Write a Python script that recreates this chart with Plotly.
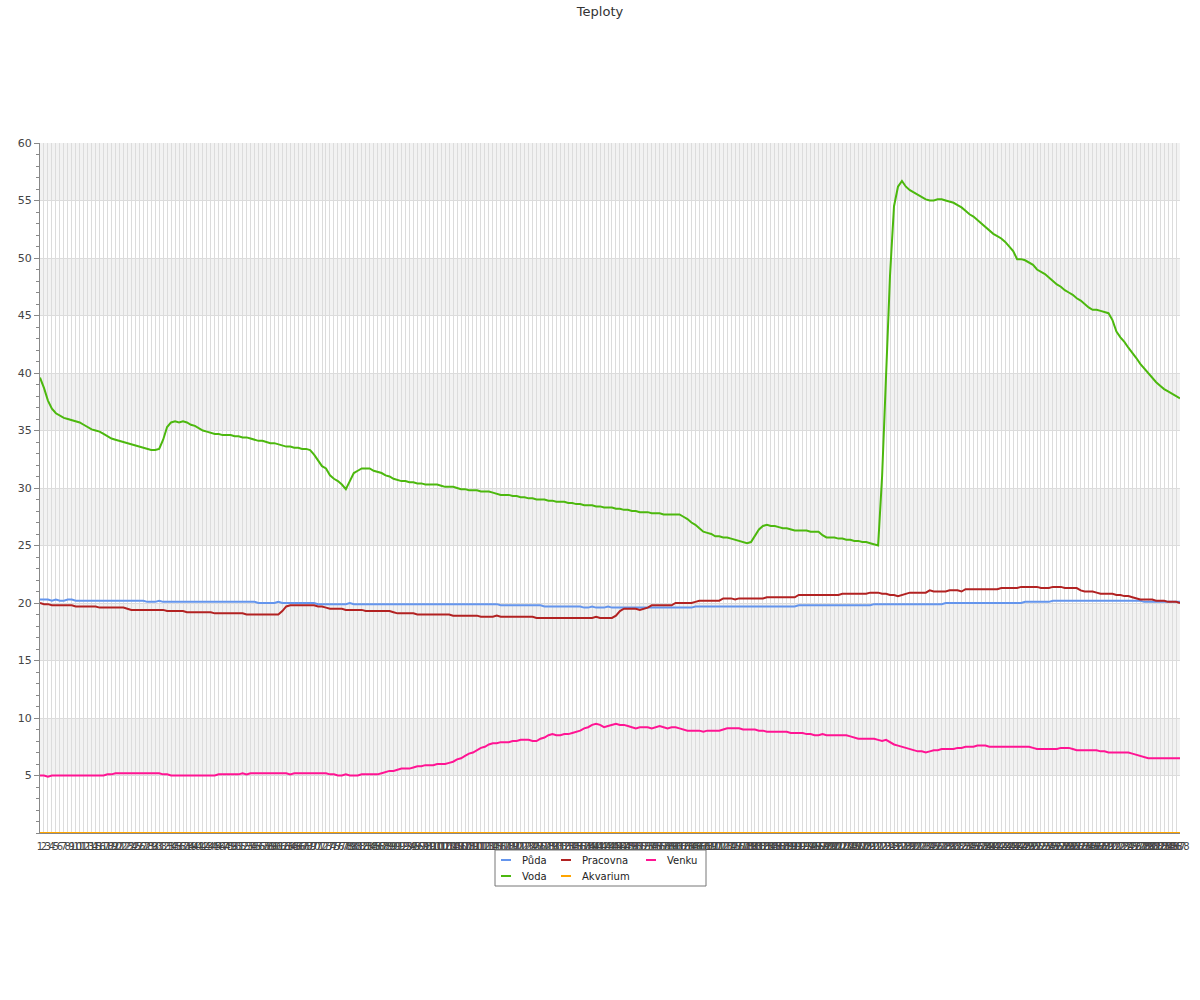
import plotly.graph_objects as go

labels = [str(i) for i in range(1, 289)]

puda = [
    20.3, 20.3, 20.3, 20.2, 20.3, 20.2, 20.2, 20.3, 20.3, 20.2,
    20.2, 20.2, 20.2, 20.2, 20.2, 20.2, 20.2, 20.2, 20.2, 20.2,
    20.2, 20.2, 20.2, 20.2, 20.2, 20.2, 20.2, 20.1, 20.1, 20.1,
    20.2, 20.1, 20.1, 20.1, 20.1, 20.1, 20.1, 20.1, 20.1, 20.1,
    20.1, 20.1, 20.1, 20.1, 20.1, 20.1, 20.1, 20.1, 20.1, 20.1,
    20.1, 20.1, 20.1, 20.1, 20.1, 20.0, 20.0, 20.0, 20.0, 20.0,
    20.1, 20.0, 20.0, 20.0, 20.0, 20.0, 20.0, 20.0, 20.0, 20.0,
    19.9, 19.9, 19.9, 19.9, 19.9, 19.9, 19.9, 19.9, 20.0, 19.9,
    19.9, 19.9, 19.9, 19.9, 19.9, 19.9, 19.9, 19.9, 19.9, 19.9,
    19.9, 19.9, 19.9, 19.9, 19.9, 19.9, 19.9, 19.9, 19.9, 19.9,
    19.9, 19.9, 19.9, 19.9, 19.9, 19.9, 19.9, 19.9, 19.9, 19.9,
    19.9, 19.9, 19.9, 19.9, 19.9, 19.9, 19.8, 19.8, 19.8, 19.8,
    19.8, 19.8, 19.8, 19.8, 19.8, 19.8, 19.8, 19.7, 19.7, 19.7,
    19.7, 19.7, 19.7, 19.7, 19.7, 19.7, 19.7, 19.6, 19.6, 19.7,
    19.6, 19.6, 19.6, 19.7, 19.6, 19.6, 19.6, 19.6, 19.6, 19.6,
    19.6, 19.6, 19.6, 19.6, 19.6, 19.6, 19.6, 19.6, 19.6, 19.6,
    19.6, 19.6, 19.6, 19.6, 19.6, 19.7, 19.7, 19.7, 19.7, 19.7,
    19.7, 19.7, 19.7, 19.7, 19.7, 19.7, 19.7, 19.7, 19.7, 19.7,
    19.7, 19.7, 19.7, 19.7, 19.7, 19.7, 19.7, 19.7, 19.7, 19.7,
    19.7, 19.8, 19.8, 19.8, 19.8, 19.8, 19.8, 19.8, 19.8, 19.8,
    19.8, 19.8, 19.8, 19.8, 19.8, 19.8, 19.8, 19.8, 19.8, 19.8,
    19.9, 19.9, 19.9, 19.9, 19.9, 19.9, 19.9, 19.9, 19.9, 19.9,
    19.9, 19.9, 19.9, 19.9, 19.9, 19.9, 19.9, 19.9, 20.0, 20.0,
    20.0, 20.0, 20.0, 20.0, 20.0, 20.0, 20.0, 20.0, 20.0, 20.0,
    20.0, 20.0, 20.0, 20.0, 20.0, 20.0, 20.0, 20.0, 20.1, 20.1,
    20.1, 20.1, 20.1, 20.1, 20.1, 20.2, 20.2, 20.2, 20.2, 20.2,
    20.2, 20.2, 20.2, 20.2, 20.2, 20.2, 20.2, 20.2, 20.2, 20.2,
    20.2, 20.2, 20.2, 20.2, 20.2, 20.2, 20.2, 20.2, 20.1, 20.1,
    20.1, 20.1, 20.1, 20.1, 20.1, 20.1, 20.1, 20.1,
]

voda = [
    39.6, 38.7, 37.6, 36.9, 36.5, 36.3, 36.1, 36.0, 35.9, 35.8,
    35.7, 35.5, 35.3, 35.1, 35.0, 34.9, 34.7, 34.5, 34.3, 34.2,
    34.1, 34.0, 33.9, 33.8, 33.7, 33.6, 33.5, 33.4, 33.3, 33.3,
    33.4, 34.2, 35.3, 35.7, 35.8, 35.7, 35.8, 35.7, 35.5, 35.4,
    35.2, 35.0, 34.9, 34.8, 34.7, 34.7, 34.6, 34.6, 34.6, 34.5,
    34.5, 34.4, 34.4, 34.3, 34.2, 34.1, 34.1, 34.0, 33.9, 33.9,
    33.8, 33.7, 33.6, 33.6, 33.5, 33.5, 33.4, 33.4, 33.3, 32.9,
    32.4, 31.9, 31.7, 31.1, 30.8, 30.6, 30.3, 29.9, 30.6, 31.3,
    31.5, 31.7, 31.7, 31.7, 31.5, 31.4, 31.3, 31.1, 31.0, 30.8,
    30.7, 30.6, 30.6, 30.5, 30.5, 30.4, 30.4, 30.3, 30.3, 30.3,
    30.3, 30.2, 30.1, 30.1, 30.1, 30.0, 29.9, 29.9, 29.8, 29.8,
    29.8, 29.7, 29.7, 29.7, 29.6, 29.5, 29.4, 29.4, 29.4, 29.3,
    29.3, 29.2, 29.2, 29.1, 29.1, 29.0, 29.0, 29.0, 28.9, 28.9,
    28.8, 28.8, 28.8, 28.7, 28.7, 28.6, 28.6, 28.5, 28.5, 28.5,
    28.4, 28.4, 28.3, 28.3, 28.3, 28.2, 28.2, 28.1, 28.1, 28.0,
    28.0, 27.9, 27.9, 27.9, 27.8, 27.8, 27.8, 27.7, 27.7, 27.7,
    27.7, 27.7, 27.5, 27.3, 27.0, 26.8, 26.5, 26.2, 26.1, 26.0,
    25.8, 25.8, 25.7, 25.7, 25.6, 25.5, 25.4, 25.3, 25.2, 25.3,
    25.8, 26.4, 26.7, 26.8, 26.7, 26.7, 26.6, 26.5, 26.5, 26.4,
    26.3, 26.3, 26.3, 26.3, 26.2, 26.2, 26.2, 25.9, 25.7, 25.7,
    25.7, 25.6, 25.6, 25.5, 25.5, 25.4, 25.4, 25.3, 25.3, 25.2,
    25.1, 25.0, 31.0, 40.0, 48.5, 54.5, 56.2, 56.7, 56.2, 55.9,
    55.7, 55.5, 55.3, 55.1, 55.0, 55.0, 55.1, 55.1, 55.0, 54.9,
    54.8, 54.6, 54.4, 54.1, 53.8, 53.6, 53.3, 53.0, 52.7, 52.4,
    52.1, 51.9, 51.7, 51.4, 51.0, 50.6, 49.9, 49.9, 49.8, 49.6,
    49.4, 49.0, 48.8, 48.6, 48.3, 48.0, 47.7, 47.5, 47.2, 47.0,
    46.8, 46.5, 46.3, 46.0, 45.7, 45.5, 45.5, 45.4, 45.3, 45.2,
    44.6, 43.6, 43.1, 42.7, 42.2, 41.8, 41.3, 40.8, 40.4, 40.0,
    39.6, 39.2, 38.9, 38.6, 38.4, 38.2, 38.0, 37.8,
]

pracovna = [
    20.0, 19.9, 19.9, 19.8, 19.8, 19.8, 19.8, 19.8, 19.8, 19.7,
    19.7, 19.7, 19.7, 19.7, 19.7, 19.6, 19.6, 19.6, 19.6, 19.6,
    19.6, 19.6, 19.5, 19.4, 19.4, 19.4, 19.4, 19.4, 19.4, 19.4,
    19.4, 19.4, 19.3, 19.3, 19.3, 19.3, 19.3, 19.2, 19.2, 19.2,
    19.2, 19.2, 19.2, 19.2, 19.1, 19.1, 19.1, 19.1, 19.1, 19.1,
    19.1, 19.1, 19.0, 19.0, 19.0, 19.0, 19.0, 19.0, 19.0, 19.0,
    19.0, 19.3, 19.7, 19.8, 19.8, 19.8, 19.8, 19.8, 19.8, 19.8,
    19.7, 19.7, 19.6, 19.5, 19.5, 19.5, 19.5, 19.4, 19.4, 19.4,
    19.4, 19.4, 19.3, 19.3, 19.3, 19.3, 19.3, 19.3, 19.3, 19.2,
    19.1, 19.1, 19.1, 19.1, 19.1, 19.0, 19.0, 19.0, 19.0, 19.0,
    19.0, 19.0, 19.0, 19.0, 18.9, 18.9, 18.9, 18.9, 18.9, 18.9,
    18.9, 18.8, 18.8, 18.8, 18.8, 18.9, 18.8, 18.8, 18.8, 18.8,
    18.8, 18.8, 18.8, 18.8, 18.8, 18.7, 18.7, 18.7, 18.7, 18.7,
    18.7, 18.7, 18.7, 18.7, 18.7, 18.7, 18.7, 18.7, 18.7, 18.7,
    18.8, 18.7, 18.7, 18.7, 18.7, 18.9, 19.3, 19.5, 19.5, 19.5,
    19.5, 19.4, 19.5, 19.6, 19.8, 19.8, 19.8, 19.8, 19.8, 19.8,
    20.0, 20.0, 20.0, 20.0, 20.0, 20.1, 20.2, 20.2, 20.2, 20.2,
    20.2, 20.2, 20.4, 20.4, 20.4, 20.3, 20.4, 20.4, 20.4, 20.4,
    20.4, 20.4, 20.4, 20.5, 20.5, 20.5, 20.5, 20.5, 20.5, 20.5,
    20.5, 20.7, 20.7, 20.7, 20.7, 20.7, 20.7, 20.7, 20.7, 20.7,
    20.7, 20.7, 20.8, 20.8, 20.8, 20.8, 20.8, 20.8, 20.8, 20.9,
    20.9, 20.9, 20.8, 20.8, 20.7, 20.7, 20.6, 20.7, 20.8, 20.9,
    20.9, 20.9, 20.9, 20.9, 21.1, 21.0, 21.0, 21.0, 21.0, 21.1,
    21.1, 21.1, 21.0, 21.2, 21.2, 21.2, 21.2, 21.2, 21.2, 21.2,
    21.2, 21.2, 21.3, 21.3, 21.3, 21.3, 21.3, 21.4, 21.4, 21.4,
    21.4, 21.4, 21.3, 21.3, 21.3, 21.4, 21.4, 21.4, 21.3, 21.3,
    21.3, 21.3, 21.1, 21.0, 21.0, 21.0, 20.9, 20.8, 20.8, 20.8,
    20.8, 20.7, 20.7, 20.6, 20.6, 20.5, 20.4, 20.3, 20.3, 20.3,
    20.3, 20.2, 20.2, 20.2, 20.1, 20.1, 20.1, 20.0,
]

akvarium = [
    0, 0, 0, 0, 0, 0, 0, 0, 0, 0, 0, 0, 0, 0, 0, 0, 0, 0, 0, 0, 0, 0, 0, 0,
    0, 0, 0, 0, 0, 0, 0, 0, 0, 0, 0, 0, 0, 0, 0, 0, 0, 0, 0, 0, 0, 0, 0, 0,
    0, 0, 0, 0, 0, 0, 0, 0, 0, 0, 0, 0, 0, 0, 0, 0, 0, 0, 0, 0, 0, 0, 0, 0,
    0, 0, 0, 0, 0, 0, 0, 0, 0, 0, 0, 0, 0, 0, 0, 0, 0, 0, 0, 0, 0, 0, 0, 0,
    0, 0, 0, 0, 0, 0, 0, 0, 0, 0, 0, 0, 0, 0, 0, 0, 0, 0, 0, 0, 0, 0, 0, 0,
    0, 0, 0, 0, 0, 0, 0, 0, 0, 0, 0, 0, 0, 0, 0, 0, 0, 0, 0, 0, 0, 0, 0, 0,
    0, 0, 0, 0, 0, 0, 0, 0, 0, 0, 0, 0, 0, 0, 0, 0, 0, 0, 0, 0, 0, 0, 0, 0,
    0, 0, 0, 0, 0, 0, 0, 0, 0, 0, 0, 0, 0, 0, 0, 0, 0, 0, 0, 0, 0, 0, 0, 0,
    0, 0, 0, 0, 0, 0, 0, 0, 0, 0, 0, 0, 0, 0, 0, 0, 0, 0, 0, 0, 0, 0, 0, 0,
    0, 0, 0, 0, 0, 0, 0, 0, 0, 0, 0, 0, 0, 0, 0, 0, 0, 0, 0, 0, 0, 0, 0, 0,
    0, 0, 0, 0, 0, 0, 0, 0, 0, 0, 0, 0, 0, 0, 0, 0, 0, 0, 0, 0, 0, 0, 0, 0,
    0, 0, 0, 0, 0, 0, 0, 0, 0, 0, 0, 0, 0, 0, 0, 0, 0, 0, 0, 0, 0, 0, 0, 0,
]

venku = [
    5.0, 5.0, 4.9, 5.0, 5.0, 5.0, 5.0, 5.0, 5.0, 5.0,
    5.0, 5.0, 5.0, 5.0, 5.0, 5.0, 5.0, 5.1, 5.1, 5.2,
    5.2, 5.2, 5.2, 5.2, 5.2, 5.2, 5.2, 5.2, 5.2, 5.2,
    5.2, 5.1, 5.1, 5.0, 5.0, 5.0, 5.0, 5.0, 5.0, 5.0,
    5.0, 5.0, 5.0, 5.0, 5.0, 5.1, 5.1, 5.1, 5.1, 5.1,
    5.1, 5.2, 5.1, 5.2, 5.2, 5.2, 5.2, 5.2, 5.2, 5.2,
    5.2, 5.2, 5.2, 5.1, 5.2, 5.2, 5.2, 5.2, 5.2, 5.2,
    5.2, 5.2, 5.2, 5.1, 5.1, 5.0, 5.0, 5.1, 5.0, 5.0,
    5.0, 5.1, 5.1, 5.1, 5.1, 5.1, 5.2, 5.3, 5.4, 5.4,
    5.5, 5.6, 5.6, 5.6, 5.7, 5.8, 5.8, 5.9, 5.9, 5.9,
    6.0, 6.0, 6.0, 6.1, 6.2, 6.4, 6.5, 6.7, 6.9, 7.0,
    7.2, 7.4, 7.5, 7.7, 7.8, 7.8, 7.9, 7.9, 7.9, 8.0,
    8.0, 8.1, 8.1, 8.1, 8.0, 8.0, 8.2, 8.3, 8.5, 8.6,
    8.5, 8.5, 8.6, 8.6, 8.7, 8.8, 8.9, 9.1, 9.2, 9.4,
    9.5, 9.4, 9.2, 9.3, 9.4, 9.5, 9.4, 9.4, 9.3, 9.2,
    9.1, 9.2, 9.2, 9.2, 9.1, 9.2, 9.3, 9.2, 9.1, 9.2,
    9.2, 9.1, 9.0, 8.9, 8.9, 8.9, 8.9, 8.8, 8.9, 8.9,
    8.9, 8.9, 9.0, 9.1, 9.1, 9.1, 9.1, 9.0, 9.0, 9.0,
    9.0, 8.9, 8.9, 8.8, 8.8, 8.8, 8.8, 8.8, 8.8, 8.7,
    8.7, 8.7, 8.7, 8.6, 8.6, 8.5, 8.5, 8.6, 8.5, 8.5,
    8.5, 8.5, 8.5, 8.5, 8.4, 8.3, 8.2, 8.2, 8.2, 8.2,
    8.2, 8.1, 8.0, 8.1, 7.9, 7.7, 7.6, 7.5, 7.4, 7.3,
    7.2, 7.1, 7.1, 7.0, 7.1, 7.2, 7.2, 7.3, 7.3, 7.3,
    7.3, 7.4, 7.4, 7.5, 7.5, 7.5, 7.6, 7.6, 7.6, 7.5,
    7.5, 7.5, 7.5, 7.5, 7.5, 7.5, 7.5, 7.5, 7.5, 7.5,
    7.4, 7.3, 7.3, 7.3, 7.3, 7.3, 7.3, 7.4, 7.4, 7.4,
    7.3, 7.2, 7.2, 7.2, 7.2, 7.2, 7.2, 7.1, 7.1, 7.0,
    7.0, 7.0, 7.0, 7.0, 7.0, 6.9, 6.8, 6.7, 6.6, 6.5,
    6.5, 6.5, 6.5, 6.5, 6.5, 6.5, 6.5, 6.5,
]

series_names = ["Půda", "Voda", "Pracovna", "Akvarium", "Venku"]
series_values = [puda, voda, pracovna, akvarium, venku]
series_colors = ["#6495ED", "#4CB80E", "#B22222", "#FFA500", "#FF1493"]
# legend placement: (column, row)
legend_slots = [(0, 0), (0, 1), (1, 0), (1, 1), (2, 0)]

y_ticks = [5, 10, 15, 20, 25, 30, 35, 40, 45, 50, 55, 60]

FONT = "DejaVu Sans, Verdana, sans-serif"
W, H = 1200, 1000
ML, MR, MT, MB = 40, 20, 143, 167
PW, PH = W - ML - MR, H - MT - MB


def px(xpix):
    return (xpix - ML) / PW


def py(ypix):
    return (H - MB - ypix) / PH


fig = go.Figure()
for name, vals, col in zip(series_names, series_values, series_colors):
    assert len(vals) == len(labels), (name, len(vals))
    fig.add_trace(go.Scatter(
        x=labels, y=vals, name=name, mode="lines",
        line=dict(color=col, width=2), showlegend=False,
    ))

# alternating background bands
for lo in range(5, 60, 10):
    fig.add_shape(type="rect", xref="paper", x0=0, x1=1, yref="y", y0=lo, y1=lo + 5,
                  fillcolor="#f2f2f2", line=dict(width=0), layer="below")

# legend box (drawn manually for compact layout)
LEG_X0, LEG_X1, LEG_Y0, LEG_Y1 = 495, 706, 850, 886
col_x = [501, 561, 646]
row_y = [860, 876]
fig.add_shape(type="rect", xref="paper", yref="paper",
              x0=px(LEG_X0), x1=px(LEG_X1), y0=py(LEG_Y0), y1=py(LEG_Y1),
              line=dict(color="#777", width=1), fillcolor="white", layer="above")
for name, col, (c, r) in zip(series_names, series_colors, legend_slots):
    fig.add_shape(type="line", xref="paper", yref="paper",
                  x0=px(col_x[c]), x1=px(col_x[c] + 10),
                  y0=py(row_y[r]), y1=py(row_y[r]),
                  line=dict(color=col, width=2), layer="above")
    fig.add_annotation(text=name, xref="paper", yref="paper",
                       x=px(col_x[c] + 19), y=py(row_y[r]),
                       xanchor="left", yanchor="middle", showarrow=False,
                       font=dict(family=FONT, size=10, color="#222"))

fig.update_layout(
    width=W, height=H,
    paper_bgcolor="white", plot_bgcolor="white",
    font=dict(family=FONT, size=11, color="#444"),
    margin=dict(l=ML, r=MR, t=MT, b=MB, autoexpand=False),
    title=dict(text="Teploty", x=0.5, xanchor="center", xref="container",
               y=0.989, yanchor="middle", yref="container",
               font=dict(family=FONT, size=13, color="#333")),
    showlegend=False,
    xaxis=dict(
        type="category", range=[0, len(labels) - 1],
        tickmode="array", tickvals=labels, ticktext=labels,
        tickangle=0, tickfont=dict(size=10, color="#444"),
        showgrid=True, gridcolor="#dcdcdc", gridwidth=1,
        showline=True, linecolor="#888", linewidth=1,
        ticks="outside", ticklen=4, tickcolor="rgba(0,0,0,0)",
        zeroline=False, automargin=False,
    ),
    yaxis=dict(
        range=[0, 60], tickmode="array", tickvals=y_ticks,
        tickfont=dict(size=11, color="#444"),
        showgrid=True, gridcolor="#dcdcdc", gridwidth=1,
        showline=True, linecolor="#888", linewidth=1,
        ticks="outside", ticklen=5, tickcolor="#888",
        zeroline=False, automargin=False,
        minor=dict(tickmode="linear", tick0=0, dtick=1, ticks="outside",
                   ticklen=3, tickcolor="#888", showgrid=False),
    ),
)

fig.write_html("out.html", config={"displayModeBar": False},
               post_script="document.body.style.margin='0px';")
